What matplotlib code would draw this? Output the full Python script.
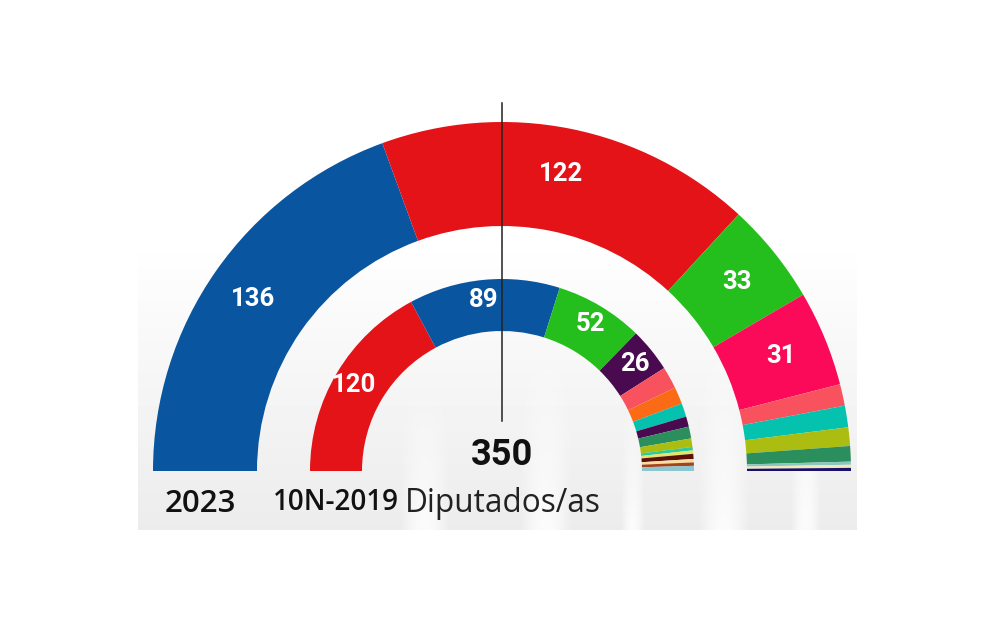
import matplotlib
matplotlib.use('Agg')
import matplotlib.pyplot as plt
import numpy as np
from matplotlib.patches import Wedge

# 2023 (anillo exterior)
seats_2023 = [136, 122, 33, 31, 7, 7, 6, 5, 1, 1, 1]
colors_2023 = ['#0A559F', '#E31317', '#25BF1D', '#FB0A5A', '#F9525F', '#05C2AE',
               '#ABBD11', '#2A8F5D', '#8CC6C0', '#F2EAB8', '#1A0F6B']
labels_2023 = ['136', '122', '33', '31']

# 10N-2019 (anillo interior)
seats_2019 = [120, 89, 52, 26, 13, 10, 8, 6, 7, 5, 2, 2, 3, 2, 2, 3]
colors_2019 = ['#E31317', '#0A559F', '#25BF1D', '#4A0A50', '#F9525F', '#FB6A14',
               '#05C2AE', '#4A0A50', '#2A8F5D', '#ABBD11', '#2FC99A', '#E4E36A',
               '#5A1208', '#FBDDA0', '#A5431A', '#8CC6D0']
labels_2019 = ['120', '89', '52', '26']

CX, CY = 502, 471
H = 620


def ring(ax, seats, colors, r_out, r_in):
    total = sum(seats)
    start = 180.0
    for s, c in zip(seats, colors):
        end = start - s / total * 180
        ax.add_patch(Wedge((CX, H - CY), r_out, end, start, width=r_out - r_in,
                           facecolor=c, edgecolor='none', zorder=3))
        start = end


fig = plt.figure(figsize=(9.81, 6.2), dpi=100)
ax = fig.add_axes([0, 0, 1, 1])

# fondo gris claro que se desvanece hacia arriba
grad = np.linspace(0.925, 1, 64).reshape(-1, 1)
ax.imshow(grad, cmap='gray', vmin=0, vmax=1, extent=(138, 857, H - 530, H - 235),
          aspect='auto', origin='lower', zorder=0)
# columnas del Congreso, blancas y difuminadas
col = np.ones((64, 16, 4))
col[:, :, 3] = np.linspace(0.85, 0, 64).reshape(-1, 1) * np.sin(np.linspace(0.2, 2.94, 16))
for x0, w, top in [(402, 46, 380), (522, 48, 340), (700, 48, 330), (622, 22, 400), (792, 28, 300)]:
    ax.imshow(col, extent=(x0, x0 + w, H - 530, H - top), aspect='auto',
              origin='lower', zorder=1)

ax.set_xlim(0, 981)
ax.set_ylim(0, H)
ax.axis('off')

ring(ax, seats_2023, colors_2023, 349, 245)
ring(ax, seats_2019, colors_2019, 192, 140)

ax.plot([CX, CX], [H - 103, H - 421], color='#222222', lw=1.1, zorder=4)

lab_font = dict(family='Roboto', weight='bold', fontsize=18.5, color='white',
                ha='center', va='center', zorder=5)
for txt, (x, y) in zip(labels_2023, [(253, 299), (561, 174), (737, 282), (781, 356)]):
    ax.text(x, H - y, txt, **lab_font)
for txt, (x, y) in zip(labels_2019, [(354, 385), (484, 300), (590, 324), (635, 364)]):
    ax.text(x, H - y, txt, **lab_font)

ax.text(CX, H - 455, '350', family='Roboto', weight='bold', fontsize=26,
        color='#111111', ha='center', va='center', zorder=5)
ax.text(200, H - 504, '2023', family='Open Sans', weight='semibold', fontsize=22.5,
        color='#111111', ha='center', va='center', zorder=5)
ax.text(336, H - 503, '10N-2019', family='Open Sans', weight='semibold', fontsize=20,
        color='#111111', ha='center', va='center', zorder=5)
ax.text(503, H - 503, 'Diputados/as', family='Open Sans', fontsize=22.7,
        color='#222222', ha='center', va='center', zorder=5)

fig.savefig('out.png', dpi=100, facecolor='white')
